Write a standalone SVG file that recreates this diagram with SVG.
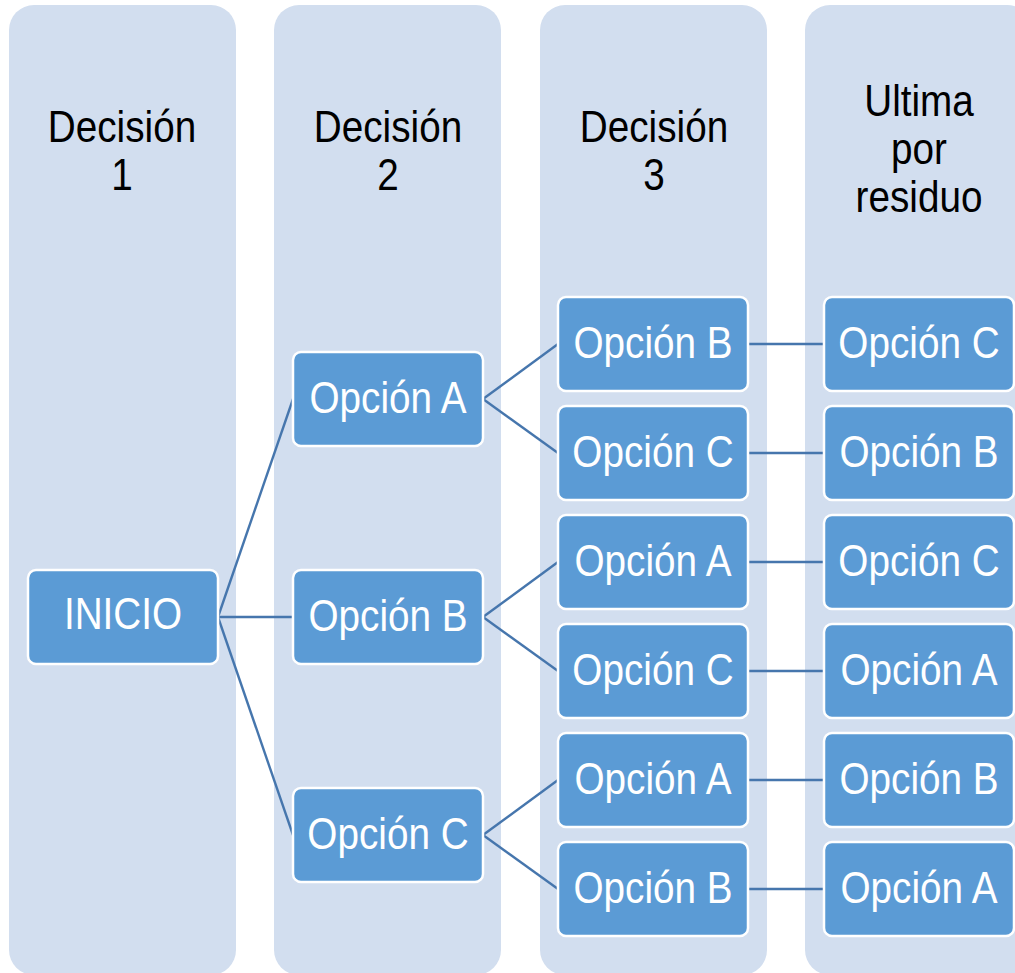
<svg xmlns="http://www.w3.org/2000/svg" width="1015" height="973" viewBox="0 0 1015 973">
<style>
.col{fill:#d2deef;}
.node rect{fill:#5b9bd5;stroke:#ffffff;stroke-width:2.5;}
.node text{fill:#ffffff;font-family:"Liberation Sans",Arial,sans-serif;font-size:45px;text-anchor:middle;}
.hdr{fill:#000000;font-family:"Liberation Sans",Arial,sans-serif;font-size:45px;text-anchor:middle;}
.conn path{fill:none;stroke:#4676ad;stroke-width:2.4;}
</style>
<rect width="1015" height="973" fill="#ffffff"/>
<g id="columns">
<rect class="col" x="9" y="5" width="227" height="970" rx="25"/>
<rect class="col" x="274" y="5" width="227" height="970" rx="25"/>
<rect class="col" x="540" y="5" width="227" height="970" rx="25"/>
<rect class="col" x="805" y="5" width="227" height="970" rx="25"/>
</g>
<g id="headers">
<text class="hdr" transform="translate(122,142) scale(0.86,1)">Decisión</text>
<text class="hdr" transform="translate(122,190) scale(0.86,1)">1</text>
<text class="hdr" transform="translate(388,142) scale(0.86,1)">Decisión</text>
<text class="hdr" transform="translate(388,190) scale(0.86,1)">2</text>
<text class="hdr" transform="translate(654,142) scale(0.86,1)">Decisión</text>
<text class="hdr" transform="translate(654,190) scale(0.86,1)">3</text>
<text class="hdr" transform="translate(919,116) scale(0.86,1)">Ultima</text>
<text class="hdr" transform="translate(919,164) scale(0.86,1)">por</text>
<text class="hdr" transform="translate(919,212) scale(0.86,1)">residuo</text>
</g>
<g id="connectors" class="conn">
<path d="M218,617 L293,399"/>
<path d="M218,617 L293,617"/>
<path d="M218,617 L293,835"/>
<path d="M483,399 L558,344"/>
<path d="M483,399 L558,453"/>
<path d="M483,617 L558,562"/>
<path d="M483,617 L558,671"/>
<path d="M483,835 L558,780"/>
<path d="M483,835 L558,889"/>
<path d="M748,344 L824,344"/>
<path d="M748,453 L824,453"/>
<path d="M748,562 L824,562"/>
<path d="M748,671 L824,671"/>
<path d="M748,780 L824,780"/>
<path d="M748,889 L824,889"/>
</g>
<g id="inicio" class="node"><rect x="28" y="570" width="190" height="94" rx="8"/><text transform="translate(123,629) scale(0.86,1)">INICIO</text></g>
<g id="d2-a" class="node"><rect x="293" y="352" width="190" height="94" rx="8"/><text transform="translate(388,413) scale(0.86,1)">Opción A</text></g>
<g id="d2-b" class="node"><rect x="293" y="570" width="190" height="94" rx="8"/><text transform="translate(388,631) scale(0.86,1)">Opción B</text></g>
<g id="d2-c" class="node"><rect x="293" y="788" width="190" height="94" rx="8"/><text transform="translate(388,849) scale(0.86,1)">Opción C</text></g>
<g id="d3-ab" class="node"><rect x="558" y="297" width="190" height="94" rx="8"/><text transform="translate(653,358) scale(0.86,1)">Opción B</text></g>
<g id="d3-ac" class="node"><rect x="558" y="406" width="190" height="94" rx="8"/><text transform="translate(653,467) scale(0.86,1)">Opción C</text></g>
<g id="d3-ba" class="node"><rect x="558" y="515" width="190" height="94" rx="8"/><text transform="translate(653,576) scale(0.86,1)">Opción A</text></g>
<g id="d3-bc" class="node"><rect x="558" y="624" width="190" height="94" rx="8"/><text transform="translate(653,685) scale(0.86,1)">Opción C</text></g>
<g id="d3-ca" class="node"><rect x="558" y="733" width="190" height="94" rx="8"/><text transform="translate(653,794) scale(0.86,1)">Opción A</text></g>
<g id="d3-cb" class="node"><rect x="558" y="842" width="190" height="94" rx="8"/><text transform="translate(653,903) scale(0.86,1)">Opción B</text></g>
<g id="d4-abc" class="node"><rect x="824" y="297" width="190" height="94" rx="8"/><text transform="translate(919,358) scale(0.86,1)">Opción C</text></g>
<g id="d4-acb" class="node"><rect x="824" y="406" width="190" height="94" rx="8"/><text transform="translate(919,467) scale(0.86,1)">Opción B</text></g>
<g id="d4-bac" class="node"><rect x="824" y="515" width="190" height="94" rx="8"/><text transform="translate(919,576) scale(0.86,1)">Opción C</text></g>
<g id="d4-bca" class="node"><rect x="824" y="624" width="190" height="94" rx="8"/><text transform="translate(919,685) scale(0.86,1)">Opción A</text></g>
<g id="d4-cab" class="node"><rect x="824" y="733" width="190" height="94" rx="8"/><text transform="translate(919,794) scale(0.86,1)">Opción B</text></g>
<g id="d4-cba" class="node"><rect x="824" y="842" width="190" height="94" rx="8"/><text transform="translate(919,903) scale(0.86,1)">Opción A</text></g>
</svg>
